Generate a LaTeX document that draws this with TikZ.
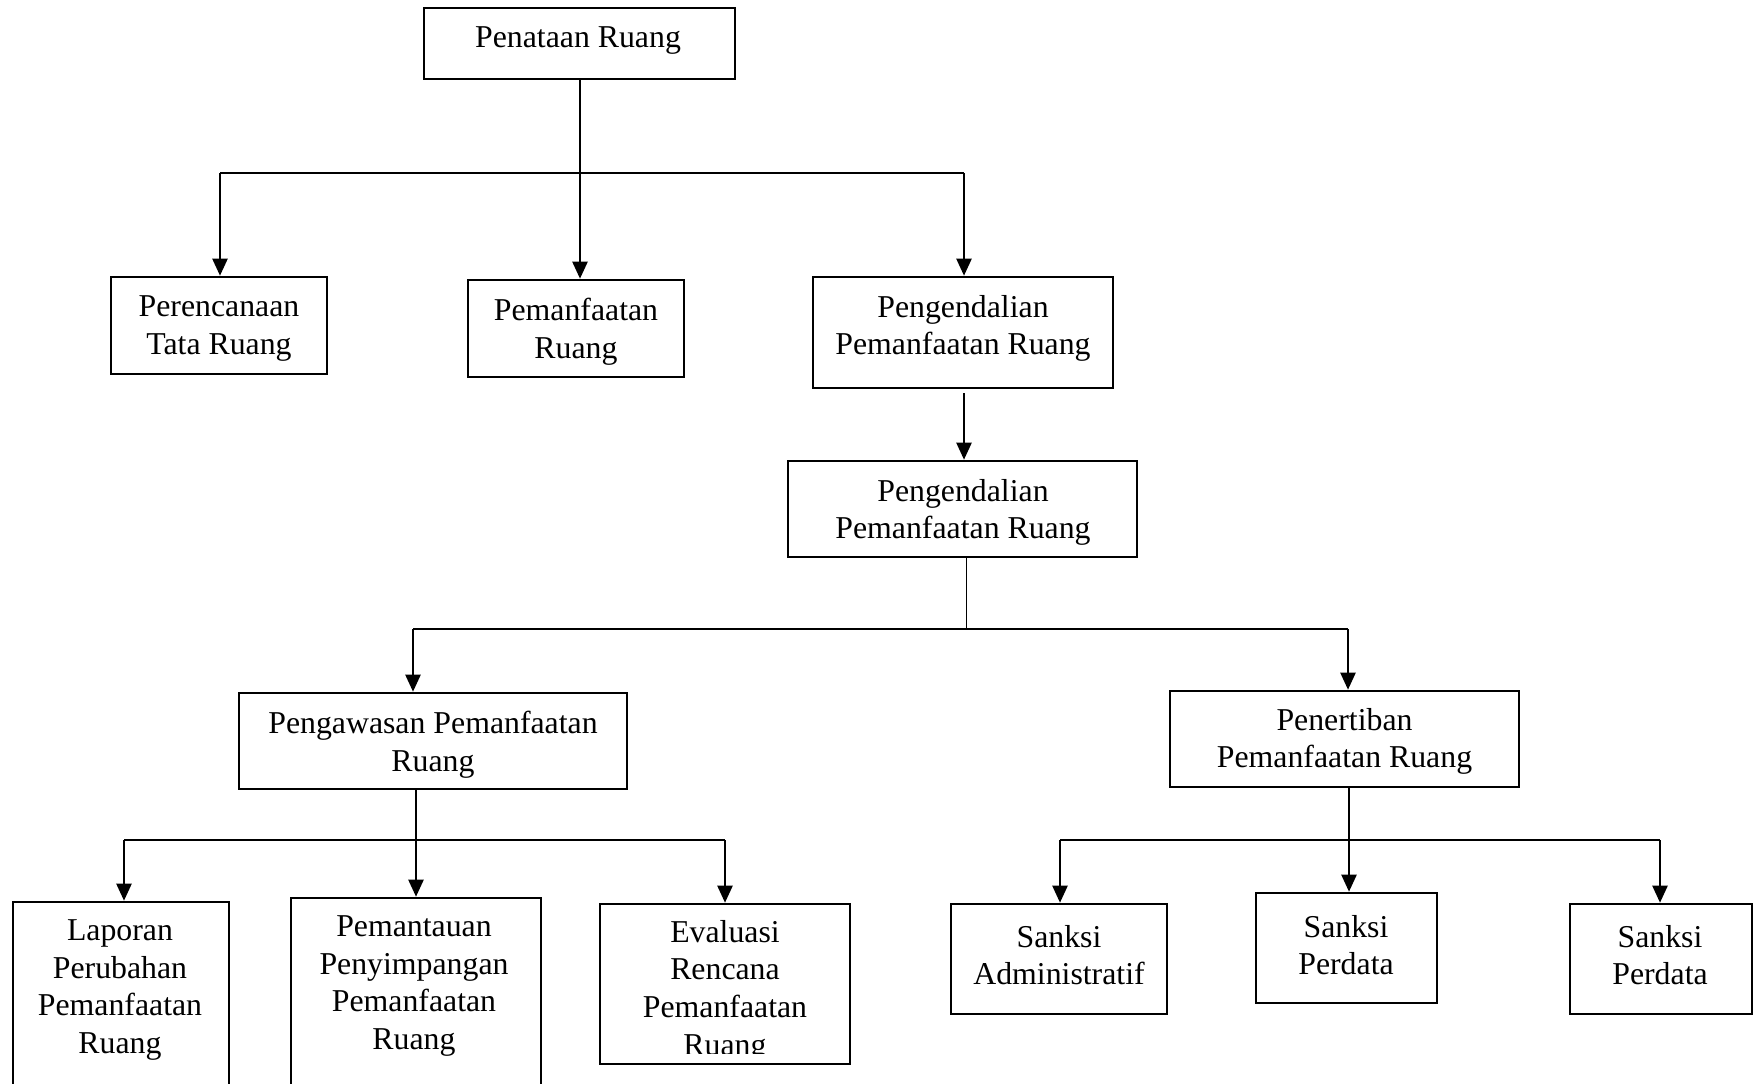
\documentclass[tikz,border=0pt]{standalone}
\usepackage{fontspec}
\setmainfont{Liberation Serif}
\usetikzlibrary{arrows.meta,fit}
\begin{document}
\begin{tikzpicture}[x=0.5pt,y=-0.5pt,
  box/.style={draw=black,line width=1.3pt,inner sep=0pt,rectangle},
  txt/.style={font=\fontsize{15.9}{18.8}\selectfont,align=center,inner sep=0pt},
  link/.style={draw=black,line width=1.15pt},
  thinlink/.style={draw=black,line width=0.5pt},
  arr/.style={link,-{Triangle[length=8.5pt,width=7.5pt]}}]
\useasboundingbox (0,0) rectangle (1760,1083);
\fill[white] (0,0) rectangle (1760,1083);

% boxes
\node[box,fit={(424,8) (735,79)}] (pen) {};
\node[box,fit={(111,277) (327,374)}] (per) {};
\node[box,fit={(468,280) (684,377)}] (pem) {};
\node[box,fit={(813,277) (1113,388)}] (pe1) {};
\node[box,fit={(788,461) (1137,557)}] (pe2) {};
\node[box,fit={(239,693) (627,789)}] (pgw) {};
\node[box,fit={(1170,691) (1519,787)}] (pnt) {};
\node[box,fit={(13,902) (229,1110)}] (lap) {};
\node[box,fit={(291,898) (541,1110)}] (pmt) {};
\node[box,fit={(600,904) (850,1064)}] (eva) {};
\node[box,fit={(951,904) (1167,1014)}] (sad) {};
\node[box,fit={(1256,893) (1437,1003)}] (spm) {};
\node[box,fit={(1570,904) (1752,1014)}] (spr) {};

% texts
\node[txt] (pen-t) at (578,41) {Penataan Ruang};
\node[txt] (per-t) at (219,328.5) {Perencanaan\\Tata Ruang};
\node[txt] (pem-t) at (576,331.5) {Pemanfaatan\\Ruang};
\node[txt] (pe1-t) at (963,328.5) {Pengendalian\\Pemanfaatan Ruang};
\node[txt] (pe2-t) at (963,512.5) {Pengendalian\\Pemanfaatan Ruang};
\node[txt] (pgw-t) at (433,745) {Pengawasan Pemanfaatan\\Ruang};
\node[txt] (pnt-t) at (1344.5,741.5) {Penertiban\\Pemanfaatan Ruang};
\node[txt] (lap-t) at (120,990) {Laporan\\Perubahan\\Pemanfaatan\\Ruang};
\node[txt] (pmt-t) at (414,986) {Pemantauan\\Penyimpangan\\Pemanfaatan\\Ruang};
\begin{scope}
\clip (600,904) rectangle (850,1053);
\node[txt] (eva-t) at (725,991) {Evaluasi\\Rencana\\Pemanfaatan\\Ruang};
\end{scope}
\node[txt] (sad-t) at (1059,955) {Sanksi\\Administratif};
\node[txt] (spm-t) at (1346,945) {Sanksi\\Perdata};
\node[txt] (spr-t) at (1660,955) {Sanksi\\Perdata};

% junction coordinates
\coordinate (j1) at (580,173);
\coordinate (j1l) at (220,173);
\coordinate (j1r) at (964,173);
\coordinate (j2) at (966,629);
\coordinate (j2l) at (413,629);
\coordinate (j2r) at (1348,629);
\coordinate (j3) at (416,840);
\coordinate (j3l) at (124,840);
\coordinate (j3r) at (725,840);
\coordinate (j4) at (1349,840);
\coordinate (j4l) at (1060,840);
\coordinate (j4r) at (1660,840);
\coordinate (a2) at (964,393);

% connectors level 1
\draw[arr] (pen.south -| j1) -- (pem.north -| j1);
\draw[link] (j1l) -- (j1r);
\draw[arr] (j1l) -- (j1l |- per.north);
\draw[arr] (j1r) -- (j1r |- pe1.north);
% pe1 -> pe2
\draw[arr] (a2) -- (a2 |- pe2.north);
% pe2 -> children
\draw[thinlink] (pe2.south -| j2) -- (j2);
\draw[link] (j2l) -- (j2r);
\draw[arr] (j2l) -- (j2l |- pgw.north);
\draw[arr] (j2r) -- (j2r |- pnt.north);
% pgw -> children
\draw[arr] (pgw.south -| j3) -- (pmt.north -| j3);
\draw[link] (j3l) -- (j3r);
\draw[arr] (j3l) -- (j3l |- lap.north);
\draw[arr] (j3r) -- (j3r |- eva.north);
% pnt -> children
\draw[arr] (pnt.south -| j4) -- (spm.north -| j4);
\draw[link] (j4l) -- (j4r);
\draw[arr] (j4l) -- (j4l |- sad.north);
\draw[arr] (j4r) -- (j4r |- spr.north);
\end{tikzpicture}
\end{document}
